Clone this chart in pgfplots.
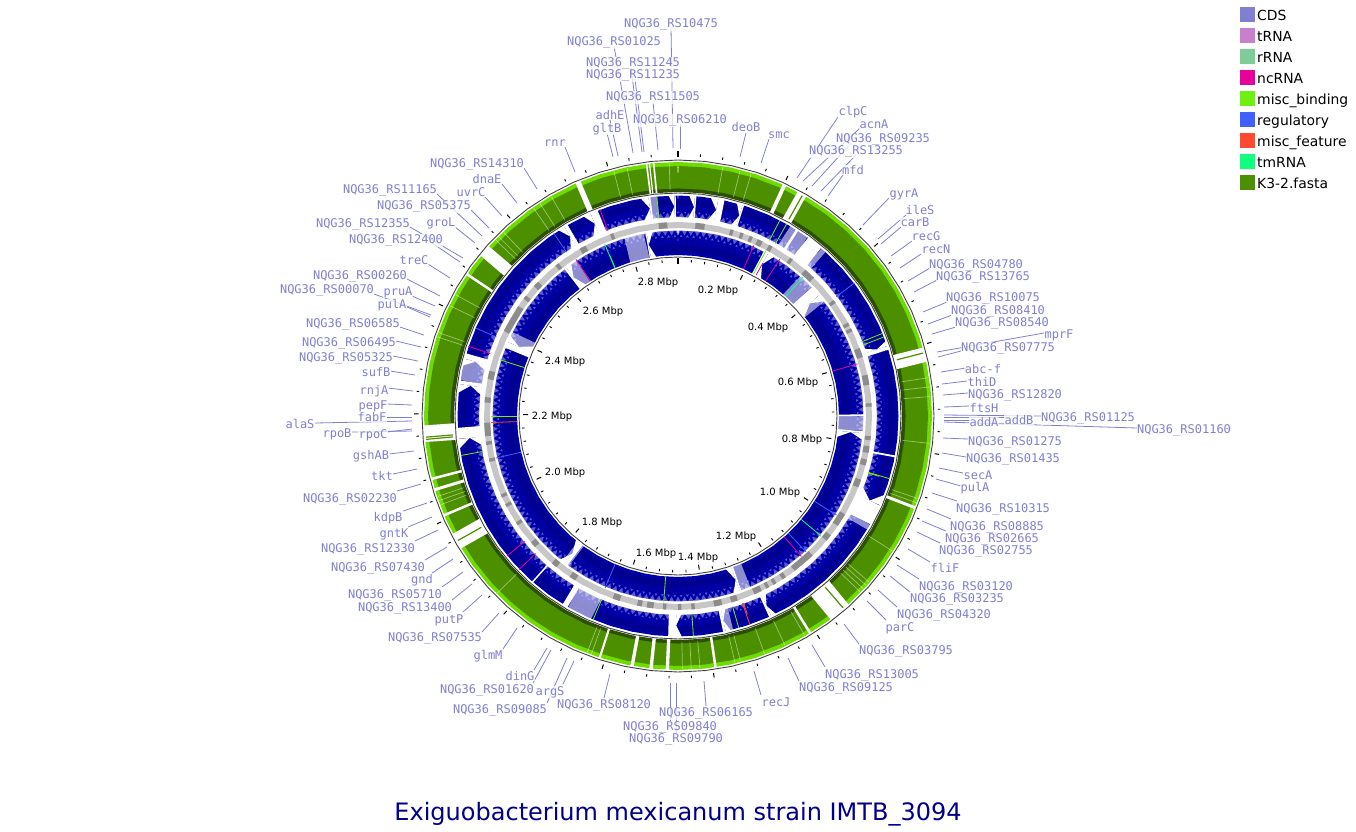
\documentclass[border=0pt]{standalone}
\usepackage{fontspec}
\setmainfont{DejaVu Sans}
\newfontfamily\monof{DejaVu Sans Mono}
\usepackage{pgfplots}
\pgfplotsset{compat=1.18}
\definecolor{cds}{HTML}{8080D0}
\definecolor{trna}{HTML}{C880CC}
\definecolor{rrna}{HTML}{80CC99}
\definecolor{ncrna}{HTML}{E8009A}
\definecolor{mbind}{HTML}{6FF010}
\definecolor{regu}{HTML}{4060FF}
\definecolor{mfeat}{HTML}{FF4A30}
\definecolor{tmrna}{HTML}{10FF80}
\definecolor{fasta}{HTML}{4C9000}
\definecolor{lime}{HTML}{6FDC00}
\definecolor{darkg}{HTML}{2A5000}
\definecolor{ttl}{HTML}{00008B}
\definecolor{bpale}{HTML}{5C5CCC}
\definecolor{bcore}{HTML}{0000AA}
\definecolor{bdark}{HTML}{000082}
\pgfplotsset{
  P/.style={data cs=polar,mark=none,line cap=butt,line join=round},
}
% angle is clockwise from the top, radius in pixels
\newcommand\ring[2]{\addplot[P,#1] coordinates {(0,#2)(6,#2)(12,#2)(18,#2)(24,#2)(30,#2)(36,#2)(42,#2)(48,#2)(54,#2)(60,#2)(66,#2)(72,#2)(78,#2)(84,#2)(90,#2)(96,#2)(102,#2)(108,#2)(114,#2)(120,#2)(126,#2)(132,#2)(138,#2)(144,#2)(150,#2)(156,#2)(162,#2)(168,#2)(174,#2)(180,#2)(186,#2)(192,#2)(198,#2)(204,#2)(210,#2)(216,#2)(222,#2)(228,#2)(234,#2)(240,#2)(246,#2)(252,#2)(258,#2)(264,#2)(270,#2)(276,#2)(282,#2)(288,#2)(294,#2)(300,#2)(306,#2)(312,#2)(318,#2)(324,#2)(330,#2)(336,#2)(342,#2)(348,#2)(354,#2)(360,#2)};}
% overlapping CDS wedges, saw-tooth between two radii
\newcommand\zig[3]{\addplot[P,#1] coordinates {(0,#2)(1,#3)(2,#2)(3,#3)(4,#2)(5,#3)(6,#2)(7,#3)(8,#2)(9,#3)(10,#2)(11,#3)(12,#2)(13,#3)(14,#2)(15,#3)(16,#2)(17,#3)(18,#2)(19,#3)(20,#2)(21,#3)(22,#2)(23,#3)(24,#2)(25,#3)(26,#2)(27,#3)(28,#2)(29,#3)(30,#2)(31,#3)(32,#2)(33,#3)(34,#2)(35,#3)(36,#2)(37,#3)(38,#2)(39,#3)(40,#2)(41,#3)(42,#2)(43,#3)(44,#2)(45,#3)(46,#2)(47,#3)(48,#2)(49,#3)(50,#2)(51,#3)(52,#2)(53,#3)(54,#2)(55,#3)(56,#2)(57,#3)(58,#2)(59,#3)(60,#2)(61,#3)(62,#2)(63,#3)(64,#2)(65,#3)(66,#2)(67,#3)(68,#2)(69,#3)(70,#2)(71,#3)(72,#2)(73,#3)(74,#2)(75,#3)(76,#2)(77,#3)(78,#2)(79,#3)(80,#2)(81,#3)(82,#2)(83,#3)(84,#2)(85,#3)(86,#2)(87,#3)(88,#2)(89,#3)(90,#2)(91,#3)(92,#2)(93,#3)(94,#2)(95,#3)(96,#2)(97,#3)(98,#2)(99,#3)(100,#2)(101,#3)(102,#2)(103,#3)(104,#2)(105,#3)(106,#2)(107,#3)(108,#2)(109,#3)(110,#2)(111,#3)(112,#2)(113,#3)(114,#2)(115,#3)(116,#2)(117,#3)(118,#2)(119,#3)(120,#2)(121,#3)(122,#2)(123,#3)(124,#2)(125,#3)(126,#2)(127,#3)(128,#2)(129,#3)(130,#2)(131,#3)(132,#2)(133,#3)(134,#2)(135,#3)(136,#2)(137,#3)(138,#2)(139,#3)(140,#2)(141,#3)(142,#2)(143,#3)(144,#2)(145,#3)(146,#2)(147,#3)(148,#2)(149,#3)(150,#2)(151,#3)(152,#2)(153,#3)(154,#2)(155,#3)(156,#2)(157,#3)(158,#2)(159,#3)(160,#2)(161,#3)(162,#2)(163,#3)(164,#2)(165,#3)(166,#2)(167,#3)(168,#2)(169,#3)(170,#2)(171,#3)(172,#2)(173,#3)(174,#2)(175,#3)(176,#2)(177,#3)(178,#2)(179,#3)(180,#2)(181,#3)(182,#2)(183,#3)(184,#2)(185,#3)(186,#2)(187,#3)(188,#2)(189,#3)(190,#2)(191,#3)(192,#2)(193,#3)(194,#2)(195,#3)(196,#2)(197,#3)(198,#2)(199,#3)(200,#2)(201,#3)(202,#2)(203,#3)(204,#2)(205,#3)(206,#2)(207,#3)(208,#2)(209,#3)(210,#2)(211,#3)(212,#2)(213,#3)(214,#2)(215,#3)(216,#2)(217,#3)(218,#2)(219,#3)(220,#2)(221,#3)(222,#2)(223,#3)(224,#2)(225,#3)(226,#2)(227,#3)(228,#2)(229,#3)(230,#2)(231,#3)(232,#2)(233,#3)(234,#2)(235,#3)(236,#2)(237,#3)(238,#2)(239,#3)(240,#2)(241,#3)(242,#2)(243,#3)(244,#2)(245,#3)(246,#2)(247,#3)(248,#2)(249,#3)(250,#2)(251,#3)(252,#2)(253,#3)(254,#2)(255,#3)(256,#2)(257,#3)(258,#2)(259,#3)(260,#2)(261,#3)(262,#2)(263,#3)(264,#2)(265,#3)(266,#2)(267,#3)(268,#2)(269,#3)(270,#2)(271,#3)(272,#2)(273,#3)(274,#2)(275,#3)(276,#2)(277,#3)(278,#2)(279,#3)(280,#2)(281,#3)(282,#2)(283,#3)(284,#2)(285,#3)(286,#2)(287,#3)(288,#2)(289,#3)(290,#2)(291,#3)(292,#2)(293,#3)(294,#2)(295,#3)(296,#2)(297,#3)(298,#2)(299,#3)(300,#2)(301,#3)(302,#2)(303,#3)(304,#2)(305,#3)(306,#2)(307,#3)(308,#2)(309,#3)(310,#2)(311,#3)(312,#2)(313,#3)(314,#2)(315,#3)(316,#2)(317,#3)(318,#2)(319,#3)(320,#2)(321,#3)(322,#2)(323,#3)(324,#2)(325,#3)(326,#2)(327,#3)(328,#2)(329,#3)(330,#2)(331,#3)(332,#2)(333,#3)(334,#2)(335,#3)(336,#2)(337,#3)(338,#2)(339,#3)(340,#2)(341,#3)(342,#2)(343,#3)(344,#2)(345,#3)(346,#2)(347,#3)(348,#2)(349,#3)(350,#2)(351,#3)(352,#2)(353,#3)(354,#2)(355,#3)(356,#2)(357,#3)(358,#2)(359,#3)(360,#2)};}
\newcommand\gapG[2]{\addplot[P,white,line width=32pt] coordinates {(#1,239)(#2,239)};}
\newcommand\gapA[2]{\addplot[P,white,line width=26pt] coordinates {(#1,209.5)(#2,209.5)};}
\newcommand\gapB[2]{\addplot[P,white,line width=30pt] coordinates {(#1,173.5)(#2,173.5)};}
\newcommand\palA[2]{\addplot[P,white,opacity=.55,line width=26pt] coordinates {(#1,209.5)(#2,209.5)};}
\newcommand\palB[2]{\addplot[P,white,opacity=.55,line width=30pt] coordinates {(#1,173.5)(#2,173.5)};}
% arrow heads: the corners cut off at the end of a run of genes
\newcommand\tipA[2]{\addplot[P,fill=white,draw=none] coordinates {(#1,196.5)(#2,196.5)(#1,209.5)};\addplot[P,fill=white,draw=none] coordinates {(#1,222.5)(#2,222.5)(#1,209.5)};}
\newcommand\tipB[2]{\addplot[P,fill=white,draw=none] coordinates {(#1,158.5)(#2,158.5)(#1,173.5)};\addplot[P,fill=white,draw=none] coordinates {(#1,188.5)(#2,188.5)(#1,173.5)};}
\newcommand\dk[2]{\addplot[P,color=black!45,line width=6pt] coordinates {(#1,191)(#2,191)};}
\newcommand\feat[4]{\addplot[P,color=#1,line width=.8pt] coordinates {(#2,#3)(#2,#4)};}
\newcommand\Qline[7]{\addplot[color=cds,line width=.8pt,mark=none] coordinates {(#4,#5)(#6,#7)};}
\newcommand\Qnode[7]{\node[anchor=base,font=\monof\fontsize{12}{12}\selectfont,text=cds,fill=white,fill opacity=.75,text opacity=1,inner sep=.5pt] at (axis cs:#1,#2+4.4) {#3};}
\newcommand\Tk[3]{\node[anchor=base,font=\fontsize{10}{10}\selectfont,text=black] at (axis cs:#1,#2+4) {#3};}
\newcommand\Lg[3]{\addplot[only marks,mark=square*,mark size=7pt,color=#1,mark options={draw=none,fill=#1}] coordinates {(1247,#2)};
  \node[anchor=base west,font=\fontsize{13.9}{14}\selectfont,inner sep=0pt] at (axis cs:1257,#2+6) {#3};}
\newcommand\ALL{%
\Q{671}{23}{NQG36\_RS10475}{671}{28}{673}{148}
\Q{614}{41}{NQG36\_RS01025}{614}{46}{633}{153}
\Q{633}{62}{NQG36\_RS11245}{631}{68}{642}{152}
\Q{633}{74}{NQG36\_RS11235}{635}{79}{644}{152}
\Q{653}{96}{NQG36\_RS11505}{653}{102}{658}{150}
\Q{680}{119}{NQG36\_RS06210}{680}{124}{680}{149}
\Q{610}{115}{adhE}{610}{120}{618}{156}
\Q{607}{128}{gltB}{607}{133}{613}{157}
\Q{555}{142}{rnr}{565}{147}{575}{172}
\Q{746}{127}{deoB}{746}{133}{740}{157}
\Q{779}{134}{smc}{769}{139}{761}{163}
\Q{853}{111}{clpC}{838}{117}{797}{178}
\Q{874}{124}{acnA}{860}{128}{803}{181}
\Q{883}{138}{NQG36\_RS09235}{851}{143}{812}{186}
\Q{856}{150}{NQG36\_RS13255}{856}{155}{821}{191}
\Q{853}{170}{mfd}{843}{175}{828}{196}
\Q{904}{193}{gyrA}{889}{198}{863}{225}
\Q{920}{210}{ileS}{906}{215}{878}{239}
\Q{915}{222}{carB}{901}{227}{881}{244}
\Q{926}{236}{recG}{912}{241}{891}{256}
\Q{936}{249}{recN}{921}{254}{900}{268}
\Q{976}{264}{NQG36\_RS04780}{930}{268}{908}{281}
\Q{983}{276}{NQG36\_RS13765}{937}{280}{914}{292}
\Q{993}{297}{NQG36\_RS10075}{947}{302}{923}{312}
\Q{998}{310}{NQG36\_RS08410}{952}{315}{928}{324}
\Q{1002}{322}{NQG36\_RS08540}{956}{327}{932}{334}
\Q{1059}{334}{mprF}{1044}{333}{937}{352}
\Q{1008}{347}{NQG36\_RS07775}{961}{351}{938}{357}
\Q{983}{369}{abc-f}{966}{368}{941}{372}
\Q{982}{382}{thiD}{967}{381}{942}{384}
\Q{1015}{394}{NQG36\_RS12820}{968}{393}{943}{395}
\Q{984}{408}{ftsH}{969}{406}{944}{407}
\Q{1088}{417}{NQG36\_RS01125}{1041}{416}{944}{415}
\Q{1019}{420}{addB}{1006}{417}{944}{417}
\Q{984}{422}{addA}{970}{420}{944}{420}
\Q{1184}{429}{NQG36\_RS01160}{1137}{428}{944}{422}
\Q{1015}{441}{NQG36\_RS01275}{968}{439}{943}{438}
\Q{1013}{458}{NQG36\_RS01435}{966}{457}{942}{453}
\Q{978}{475}{secA}{963}{473}{939}{468}
\Q{975}{487}{pulA}{961}{486}{936}{479}
\Q{1003}{508}{NQG36\_RS10315}{957}{501}{932}{493}
\Q{997}{526}{NQG36\_RS08885}{951}{519}{927}{509}
\Q{992}{538}{NQG36\_RS02665}{946}{531}{922}{521}
\Q{986}{550}{NQG36\_RS02755}{940}{543}{917}{532}
\Q{945}{568}{fliF}{930}{562}{908}{549}
\Q{966}{586}{NQG36\_RS03120}{919}{579}{897}{565}
\Q{957}{598}{NQG36\_RS03235}{910}{592}{890}{576}
\Q{944}{614}{NQG36\_RS04320}{897}{607}{878}{590}
\Q{900}{627}{parC}{886}{620}{867}{601}
\Q{906}{650}{NQG36\_RS03795}{859}{644}{844}{624}
\Q{872}{674}{NQG36\_RS13005}{825}{667}{812}{645}
\Q{846}{687}{NQG36\_RS09125}{799}{681}{788}{658}
\Q{776}{702}{recJ}{761}{695}{754}{671}
\Q{706}{712}{NQG36\_RS06165}{706}{706}{704}{681}
\Q{670}{726}{NQG36\_RS09840}{670}{722}{670}{683}
\Q{676}{738}{NQG36\_RS09790}{676}{733}{676}{683}
\Q{604}{704}{NQG36\_RS08120}{604}{698}{610}{674}
\Q{550}{691}{argS}{563}{684}{574}{661}
\Q{500}{709}{NQG36\_RS09085}{547}{703}{567}{658}
\Q{487}{689}{NQG36\_RS01620}{533}{683}{551}{650}
\Q{520}{676}{dinG}{534}{670}{547}{648}
\Q{488}{655}{glmM}{503}{649}{517}{628}
\Q{435}{637}{NQG36\_RS07535}{482}{632}{499}{613}
\Q{449}{619}{putP}{463}{612}{482}{595}
\Q{405}{607}{NQG36\_RS13400}{452}{600}{472}{584}
\Q{395}{594}{NQG36\_RS05710}{442}{587}{463}{572}
\Q{422}{579}{gnd}{432}{573}{453}{559}
\Q{378}{567}{NQG36\_RS07430}{425}{560}{447}{547}
\Q{368}{548}{NQG36\_RS12330}{415}{541}{438}{530}
\Q{394}{533}{gntK}{408}{527}{432}{517}
\Q{388}{517}{kdpB}{403}{511}{427}{503}
\Q{350}{498}{NQG36\_RS02230}{397}{491}{421}{484}
\Q{382}{476}{tkt}{393}{474}{417}{469}
\Q{371}{455}{gshAB}{389}{454}{414}{451}
\Q{373}{434}{rpoC}{387}{432}{412}{429}
\Q{337}{433}{rpoB}{352}{432}{412}{431}
\Q{300}{424}{alaS}{315}{423}{412}{421}
\Q{372}{417}{fabF}{387}{417}{412}{417}
\Q{373}{405}{pepF}{387}{404}{412}{405}
\Q{374}{390}{rnjA}{388}{388}{413}{391}
\Q{376}{372}{sufB}{390}{371}{415}{375}
\Q{346}{357}{NQG36\_RS05325}{393}{356}{418}{361}
\Q{349}{342}{NQG36\_RS06495}{396}{341}{421}{347}
\Q{353}{323}{NQG36\_RS06585}{400}{327}{424}{335}
\Q{392}{304}{pulA}{407}{307}{430}{317}
\Q{327}{289}{NQG36\_RS00070}{374}{294}{431}{315}
\Q{398}{291}{pruA}{412}{296}{435}{306}
\Q{360}{275}{NQG36\_RS00260}{407}{279}{440}{296}
\Q{414}{260}{treC}{428}{264}{450}{278}
\Q{396}{239}{NQG36\_RS12400}{432}{243}{460}{262}
\Q{363}{223}{NQG36\_RS12355}{410}{227}{463}{258}
\Q{441}{222}{groL}{455}{227}{475}{243}
\Q{424}{205}{NQG36\_RS05375}{471}{210}{489}{228}
\Q{390}{189}{NQG36\_RS11165}{437}{194}{482}{236}
\Q{471}{192}{uvrC}{485}{197}{502}{216}
\Q{487}{179}{dnaE}{502}{184}{517}{203}
\Q{477}{163}{NQG36\_RS14310}{524}{168}{537}{189}
}
\begin{document}
\begin{tikzpicture}[x=1pt,y=1pt]
\path[use as bounding box] (0,0) rectangle (1356,831);
% --- rings, in polar data
\begin{axis}[at={(678pt,415pt)},anchor=origin,x={(0pt,1pt)},y={(1pt,0pt)},
  xmin=-416,xmax=415,ymin=-678,ymax=678,hide axis,clip=false,disabledatascaling]
% sequence ring
\ring{color=lime,line width=5pt}{251.5}
\ring{color=fasta,line width=23pt}{238.5}
\ring{color=darkg,line width=3.5pt}{225.8}
% white gaps between contigs
\gapG{24.3}{25.2}\gapG{28}{30.3}\gapG{74.3}{77.8}\gapG{110.8}{111.5}\gapG{137.7}{143.3}
\gapG{148.4}{149}\gapG{171.2}{171.8}\gapG{182}{182.8}\gapG{185.7}{186.5}\gapG{190}{190.8}
\gapG{197.7}{198.2}\gapG{238.5}{242.5}\gapG{246.7}{247.3}\gapG{252.8}{253.5}\gapG{255.4}{256}
\gapG{264}{268}\gapG{303.6}{304.2}\gapG{309}{312}\gapG{336.2}{337.5}\gapG{352.7}{353.1}\gapG{353.4}{353.7}\gapG{354.3}{354.7}
\pgfplotsinvokeforeach{29.4,75.6,139.3,240.5,264.7,265.2}{\addplot[P,color=fasta,line width=1.2pt] coordinates {(#1,226)(#1,253)};}
\pgfplotsinvokeforeach{10.2,14.2,16.8,81.3,83.4,85.6,96.2,109,110,122.2,131,132,133,134,150,155,160,165.7,167,175,177,179,200,201,225.6,249.5,250.5,251.5,288.2,289.2,295.8,298.6,314,315,316.5,325.2,327,330,345.3,348.4,358}{\addplot[P,white,opacity=.45,line width=.7pt] coordinates {(#1,226)(#1,253)};}
% CDS tracks
\ring{color=bpale,line width=21pt}{209.5}
\ring{color=bcore,line width=16pt}{212.5}
\zig{color=bcore,line width=2.2pt}{200}{206}
\zig{color=bdark,line width=.5pt}{206}{220}
\ring{color=bdark,opacity=.5,line width=6pt}{214}
\ring{color=bpale,line width=24pt}{173.5}
\ring{color=bcore,line width=18pt}{170}
\zig{color=bcore,line width=2.2pt}{178}{184}
\zig{color=bdark,line width=.5pt}{163}{178}
\ring{color=bdark,opacity=.5,line width=7pt}{168}
% spaces on the outer track
\palA{352.5}{354.5}\palA{30.5}{36}\palA{279.3}{285}\palA{203}{210}\palA{40.5}{42}\palA{119.5}{121}\palA{165.5}{167.5}
\gapA{352.3}{352.8}\gapA{359}{359.4}\gapA{4.4}{4.8}\gapA{10.5}{12.2}\gapA{17}{17.4}\gapA{32.3}{33}\gapA{36}{40.5}
\gapA{71.5}{72.5}\gapA{100.3}{100.8}\gapA{113.8}{119.5}\gapA{155}{155.6}\gapA{167.5}{168.2}\gapA{180.5}{182.6}
\gapA{210}{211.5}\gapA{221}{221.4}\gapA{264}{267}\gapA{278.3}{279.3}\gapA{285}{286.5}\gapA{329}{330}\gapA{336.6}{338.7}
\tipA{352.3}{350}\tipA{359}{357.3}\tipA{4.4}{2.7}\tipA{10.5}{8.3}\tipA{17}{15.3}\tipA{71.5}{70}\tipA{113.8}{110.6}\tipA{155}{153.5}
\tipA{167.5}{166}\tipA{180.5}{178.8}\tipA{264}{261.2}\tipA{278.3}{275.8}\tipA{285}{283}\tipA{329}{327}\tipA{336.6}{334.4}
% spaces on the inner track
\palB{343}{349.5}\palB{323}{327}\palB{293.5}{297}\palB{216}{218.5}\palB{157}{160}\palB{41}{46}\palB{49.5}{52}\palB{90}{94.7}
\gapB{349.9}{350.3}\gapB{322.3}{323}\gapB{291.5}{293.5}\gapB{216.5}{217.5}\gapB{160}{160.6}\gapB{89.5}{90}\gapB{94.7}{95.3}\gapB{46}{49.5}\gapB{27.5}{29}
\tipB{350.3}{352.5}\tipB{323}{325.3}\tipB{293.5}{296}\tipB{217.5}{219.8}\tipB{160.6}{163}\tipB{95.3}{97.8}\tipB{49.5}{52.3}\tipB{29}{31.5}
% coloured features on the tracks
\feat{ncrna}{339.3}{198}{221}\feat{tmrna}{336.9}{161}{187}\feat{tmrna}{337}{161}{175}\feat{ncrna}{326.9}{161}{187}
\feat{regu}{325.8}{198}{221}\feat{mbind}{287.5}{161}{187}\feat{ncrna}{288.4}{198}{221}\feat{regu}{293.5}{198}{221}
\feat{mbind}{354.5}{198}{221}\feat{mbind}{27.5}{198}{221}\feat{mbind}{29.5}{198}{221}\feat{mbind}{28}{161}{187}
\feat{ncrna}{24}{161}{187}\feat{ncrna}{33}{161}{187}\feat{ncrna}{29}{161}{175}\feat{tmrna}{42}{161}{187}\feat{regu}{53}{198}{221}
\feat{ncrna}{73.8}{161}{187}\feat{mbind}{69}{198}{221}\feat{mbind}{68}{198}{221}\feat{mbind}{106.5}{198}{221}\feat{mbind}{106.7}{198}{210}
\feat{regu}{122}{161}{187}\feat{tmrna}{130}{161}{187}\feat{regu}{136.7}{161}{187}\feat{ncrna}{138.7}{161}{187}
\feat{mfeat}{161}{198}{221}\feat{mfeat}{160.7}{198}{210}\feat{mbind}{164}{198}{221}\feat{mbind}{176}{198}{221}
\feat{mbind}{184.4}{161}{187}\feat{mbind}{202.6}{198}{221}\feat{regu}{203}{161}{187}\feat{ncrna}{226}{198}{221}\feat{ncrna}{230.7}{198}{221}
\feat{mbind}{259.7}{198}{221}\feat{mfeat}{268}{161}{187}\feat{mbind}{270}{161}{187}\feat{regu}{257}{161}{187}
% grey track
\ring{color=gray!45,line width=6pt}{191}
\dk{274}{275.6}\dk{281}{283.5}\dk{296}{304.6}\dk{307.2}{308.4}\dk{312}{313.8}\dk{320.8}{322}\dk{329.5}{331.5}\dk{339.5}{340.5}
\dk{354.2}{356.8}\dk{5.2}{8}\dk{15.7}{16.7}\dk{18.8}{19.8}\dk{21.7}{22.7}\dk{24.3}{25.9}\dk{28}{29.2}\dk{35.3}{36.3}\dk{41}{44.5}
\dk{53.3}{54.3}\dk{61.2}{62.2}\dk{63.1}{64.1}\dk{69.5}{72.3}\dk{77.7}{80.7}\dk{86.2}{87.2}\dk{96}{97.2}\dk{99}{101}\dk{103}{104.8}
\dk{109.2}{111.6}\dk{120.5}{124.5}\dk{128}{130}\dk{136}{143}\dk{146.2}{147.4}\dk{149.5}{150.5}\dk{151.9}{152.9}\dk{154.4}{156.8}
\dk{162}{164}\dk{166.8}{169.2}\dk{175}{176}\dk{179}{180}\dk{183.5}{184.5}\dk{187.3}{189.3}\dk{190.8}{192.2}\dk{197.5}{199.7}
\dk{212}{214}\dk{218.8}{220.6}\dk{227.5}{229.3}\dk{235.7}{236.7}\dk{242}{243}\dk{245.1}{246.1}\dk{256.3}{257.3}\dk{261.4}{262.4}\dk{264}{268}
% circles
\ring{color=black!75,line width=.9pt}{256}
\ring{color=black!75,line width=.9pt}{223}
\ring{color=black!75,line width=.9pt}{159}
% ticks
\pgfplotsinvokeforeach{4.92,9.84,14.75,19.67,29.51,34.43,39.34,44.26,54.1,59.02,63.93,68.85,78.69,83.61,88.52,93.44,103.28,108.2,113.11,118.03,127.87,132.79,137.7,142.62,152.46,157.38,162.3,167.21,177.05,181.97,186.89,191.8,201.64,206.56,211.48,216.39,226.23,231.15,236.07,240.98,250.82,255.74,260.66,265.57,275.41,280.33,285.25,290.16,300,304.92,309.84,314.75,324.59,329.51,334.43,339.34,349.18,354.1}{
 \addplot[P,black,line width=.9pt] coordinates {(#1,260)(#1,262.5)};
 \addplot[P,black,line width=.9pt] coordinates {(#1,154)(#1,156.5)};}
\pgfplotsinvokeforeach{24.59,49.18,73.77,98.36,122.95,147.54,172.13,196.72,221.31,245.9,270.49,295.08,319.67,344.26}{
 \addplot[P,black,line width=1pt] coordinates {(#1,259.5)(#1,264)};
 \addplot[P,black,line width=1pt] coordinates {(#1,150)(#1,155)};}
\addplot[P,black,line width=2.4pt] coordinates {(0,259)(0,265)};
\addplot[P,black,line width=2.4pt] coordinates {(0,152)(0,158)};
\end{axis}
% --- labels and legend, in image pixels
\begin{axis}[at={(0pt,0pt)},anchor=south west,scale only axis,width=1356pt,height=831pt,
  xmin=0,xmax=1356,ymin=0,ymax=831,y dir=reverse,hide axis,clip=false]
\let\Q\Qline \ALL
\let\Q\Qnode \ALL
\Tk{718}{289}{0.2 Mbp}\Tk{768}{326}{0.4 Mbp}\Tk{798}{381}{0.6 Mbp}\Tk{802}{438}{0.8 Mbp}\Tk{780}{491}{1.0 Mbp}
\Tk{736}{535}{1.2 Mbp}\Tk{698}{556}{1.4 Mbp}\Tk{656}{552}{1.6 Mbp}\Tk{602}{521}{1.8 Mbp}\Tk{565}{471}{2.0 Mbp}
\Tk{552}{415}{2.2 Mbp}\Tk{565}{360}{2.4 Mbp}\Tk{603}{310}{2.6 Mbp}\Tk{658}{281}{2.8 Mbp}
\Lg{cds}{14}{CDS}\Lg{trna}{35}{tRNA}\Lg{rrna}{56}{rRNA}\Lg{ncrna}{77}{ncRNA}\Lg{mbind}{98}{misc\_binding}
\Lg{regu}{119}{regulatory}\Lg{mfeat}{140}{misc\_feature}\Lg{tmrna}{161}{tmRNA}\Lg{fasta}{182}{K3-2.fasta}
\node[anchor=base,font=\fontsize{24}{24}\selectfont,text=ttl,inner sep=0pt] at (axis cs:678,820) {Exiguobacterium mexicanum strain IMTB\_3094};
\end{axis}
\end{tikzpicture}
\end{document}
